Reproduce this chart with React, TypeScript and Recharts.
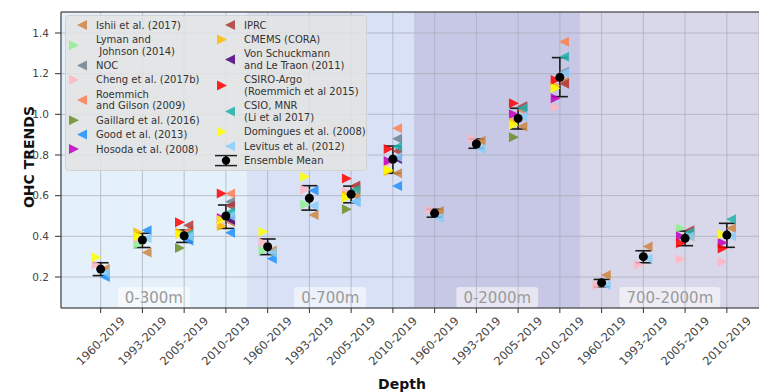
import React from 'react';
import { ScatterChart, Scatter, XAxis, YAxis, CartesianGrid, ReferenceArea, ReferenceLine, ErrorBar, Legend, Label } from 'recharts';

const _ = null;

const periods = ['1960-2019', '1993-2019', '2005-2019', '2010-2019'];
const depths = ['0-300m', '0-700m', '0-2000m', '700-2000m'];
const categories = depths.flatMap(() => periods);

const yTicks = [0.2, 0.4, 0.6, 0.8, 1.0, 1.2, 1.4];

// one value per category (4 depths x 4 periods), null = not available
const ishii = [0.24, 0.32, 0.39, 0.47, 0.33, 0.505, 0.6, 0.71, 0.525, 0.87, 0.94, 1.16, 0.21, 0.35, 0.4, 0.44];
const lyman = [_, 0.36, _, _, 0.33, 0.557, _, _, _, _, _, _, _, _, 0.44, _];
const noc = [_, _, _, 0.57, _, _, _, 0.88, _, _, _, 1.21, _, _, _, _];
const cheng = [0.26, 0.39, 0.41, 0.46, 0.37, 0.63, 0.62, 0.76, 0.53, 0.88, 0.99, 1.035, 0.16, 0.26, 0.287, 0.275];
const roemmichGilson = [_, _, 0.43, 0.611, _, _, 0.64, 0.931, _, _, 1.02, 1.357, _, _, _, _];
const gaillard = [_, _, 0.342, _, _, _, 0.533, _, _, _, 0.887, _, _, _, _, _];
const good = [0.2, 0.43, 0.38, 0.418, 0.29, 0.625, 0.57, 0.647, _, _, _, _, _, _, _, _];
const hosoda = [_, _, _, 0.49, _, _, _, 0.77, _, _, 1.0, 1.079, _, _, 0.4, 0.368];
const iprc = [_, _, 0.455, 0.55, _, _, 0.65, 0.82, _, _, 1.04, 1.15, _, _, 0.43, _];
const cmems = [_, 0.42, 0.42, 0.45, _, _, 0.6, 0.72, _, _, 0.96, 1.14, _, _, _, _];
const vonSchuckmann = [_, _, _, 0.48, _, _, _, 0.78, _, _, _, _, _, _, _, _];
const csiroArgo = [_, _, 0.469, 0.611, _, _, 0.685, 0.83, _, _, 1.054, 1.169, _, _, 0.366, 0.34];
const csio = [_, _, 0.41, 0.52, _, _, 0.63, 0.84, _, _, 1.03, 1.283, _, _, 0.42, 0.484];
const domingues = [0.297, 0.4, 0.41, 0.48, 0.423, 0.693, 0.59, 0.726, _, _, 0.947, 1.128, _, _, _, 0.41];
const levitus = [0.22, 0.39, 0.4, 0.5, 0.32, 0.55, 0.57, 0.79, 0.49, 0.83, 0.99, 1.205, 0.16, 0.29, 0.4, 0.4];

const ensMean = [0.239, 0.382, 0.403, 0.5, 0.349, 0.587, 0.607, 0.779, 0.513, 0.854, 0.98, 1.182, 0.172, 0.3, 0.39, 0.406];
const ensLow = [0.207, 0.345, 0.37, 0.439, 0.31, 0.529, 0.565, 0.71, 0.494, 0.833, 0.928, 1.087, 0.152, 0.27, 0.354, 0.346];
const ensHigh = [0.27, 0.415, 0.431, 0.554, 0.387, 0.649, 0.647, 0.844, 0.533, 0.879, 1.03, 1.279, 0.188, 0.329, 0.426, 0.464];

type Product = { name: string[]; color: string; dir: '<' | '>'; values: (number | null)[] };

const col1: Product[] = [
  { name: ['Ishii et al. (2017)'], color: '#cd853f', dir: '<', values: ishii },
  { name: ['Lyman and', ' Johnson (2014)'], color: '#90ee90', dir: '>', values: lyman },
  { name: ['NOC'], color: '#708090', dir: '<', values: noc },
  { name: ['Cheng et al. (2017b)'], color: '#ffb6c1', dir: '>', values: cheng },
  { name: ['Roemmich', 'and Gilson (2009)'], color: '#ff7f50', dir: '<', values: roemmichGilson },
  { name: ['Gaillard et al. (2016)'], color: '#6b8e23', dir: '>', values: gaillard },
  { name: ['Good et al. (2013)'], color: '#1e90ff', dir: '<', values: good },
  { name: ['Hosoda et al. (2008)'], color: '#bf00bf', dir: '>', values: hosoda },
];
const col2: Product[] = [
  { name: ['IPRC'], color: '#b03a3a', dir: '<', values: iprc },
  { name: ['CMEMS (CORA)'], color: '#ffbb00', dir: '>', values: cmems },
  { name: ['Von Schuckmann', 'and Le Traon (2011)'], color: '#4b0082', dir: '<', values: vonSchuckmann },
  { name: ['CSIRO-Argo', '(Roemmich et al 2015)'], color: '#ff0000', dir: '>', values: csiroArgo },
  { name: ['CSIO, MNR', '(Li et al 2017)'], color: '#20b2aa', dir: '<', values: csio },
  { name: ['Domingues et al. (2008)'], color: '#ffff00', dir: '>', values: domingues },
  { name: ['Levitus et al. (2012)'], color: '#87cefa', dir: '<', values: levitus },
];
const products = [...col1, ...col2];

const bandColors = ['#e4f1fa', '#d8e1f5', '#c7c8e5', '#d9d8ea'];

const X_MIN = -0.95;
const X_MAX = 15.77;
const Y_MIN = 0.0475;
const Y_MAX = 1.5033;
const FONT = '"DejaVu Sans", sans-serif';

const triPoints = (cx: number, cy: number, dir: string, s = 5) =>
  dir === '>'
    ? `${cx - s},${cy - s} ${cx + s},${cy} ${cx - s},${cy + s}`
    : `${cx + s},${cy - s} ${cx - s},${cy} ${cx + s},${cy + s}`;

const triangleShape = (color: string, dir: string) => (p: any) =>
  <polygon points={triPoints(p.cx, p.cy, dir)} fill={color} fillOpacity={0.85} />;

const toPoints = (p: Product) =>
  p.values
    .map((v, i) => (v == null ? null : { x: i + (p.dir === '>' ? -0.1 : 0.1), y: v }))
    .filter(Boolean);

const ensData = ensMean.map((m, i) => ({ x: i, y: m, err: [m - ensLow[i], ensHigh[i] - m] }));

const charW = (t: string) => t.split('').reduce((s, c) => s + (c === '-' ? 5.4 : c === 'm' ? 14.6 : 9.54), 0);

const bandLabel = (text: string) => (props: any) => {
  const vb = props.viewBox;
  const cx = vb.x + vb.width / 2;
  const bottom = vb.y + vb.height;
  const w = charW(text) + 14;
  return (
    <g>
      <rect x={cx - w / 2} y={bottom - 21} width={w} height={21} rx={3} fill="#fff" fillOpacity={0.55} />
      <text x={cx} y={bottom - 10} textAnchor="middle" dominantBaseline="central" fontSize={15} fill="#9a9a9a" fontFamily={FONT}>
        {text}
      </text>
    </g>
  );
};

const XTick = (props: any) => {
  const { x, y, payload } = props;
  return (
    <g transform={`translate(${x},${y + 28})`}>
      <text transform="rotate(-45)" textAnchor="middle" dominantBaseline="central" fontSize={11.5} fill="#444" fontFamily={FONT}>
        {categories[payload.value]}
      </text>
    </g>
  );
};

const LegendBox = () => {
  const step = 14.4;
  const inner = 11.6;
  const renderCol = (items: { name: string[]; color?: string; dir?: string; ens?: boolean }[], mx: number, tx: number) => {
    let y = 10;
    return items.map((it, k) => {
      const y0 = y;
      const mid = y0 + (inner * (it.name.length - 1)) / 2;
      y += step + inner * (it.name.length - 1);
      return (
        <g key={k}>
          {it.ens ? (
            <g stroke="#222" strokeWidth={1.5}>
              <line x1={mx - 11} x2={mx + 11} y1={mid - 5} y2={mid - 5} />
              <line x1={mx - 11} x2={mx + 11} y1={mid + 5} y2={mid + 5} />
              <line x1={mx} x2={mx} y1={mid - 5} y2={mid + 5} strokeWidth={2} />
              <circle cx={mx} cy={mid} r={4.2} fill="#000" stroke="none" />
            </g>
          ) : (
            <polygon points={triPoints(mx + (it.dir === '>' ? -4 : 4), mid, it.dir!)} fill={it.color} fillOpacity={0.85} />
          )}
          {it.name.map((line, j) => (
            <text key={j} x={tx} y={y0 + j * inner} dominantBaseline="central" fontSize={10} fill="#333" fontFamily={FONT} xmlSpace="preserve">
              {line}
            </text>
          ))}
        </g>
      );
    });
  };
  return (
    <svg width={302} height={156} style={{ display: 'block' }}>
      <rect x={0.5} y={0.5} width={301} height={155} rx={3} fill="#e3e3e3" fillOpacity={0.88} stroke="#d2d2d2" />
      {renderCol(col1, 13, 31)}
      {renderCol([...col2, { name: ['Ensemble Mean'], ens: true }], 161, 179)}
    </svg>
  );
};

export default function App() {
  return (
    <div style={{ position: 'absolute', left: 0, top: 0, fontFamily: FONT }}>
      <ScatterChart width={759} height={392} margin={{ top: 12, right: 0, left: 0, bottom: 0 }}>
        {depths.map((d, g) => (
          <ReferenceArea
            key={d}
            x1={g === 0 ? X_MIN : g * 4 - 0.5}
            x2={g === depths.length - 1 ? X_MAX : g * 4 + 3.5}
            y1={Y_MIN}
            y2={Y_MAX}
            fill={bandColors[g]}
            fillOpacity={1}
            stroke="none"
            ifOverflow="visible"
            zIndex={-200}
            label={bandLabel(d)}
          />
        ))}
        <CartesianGrid stroke="#a8a9b6" strokeOpacity={0.7} strokeWidth={1} zIndex={-100} />
        <XAxis
          type="number"
          dataKey="x"
          domain={[X_MIN, X_MAX]}
          ticks={categories.map((_c, i) => i)}
          interval={0}
          allowDataOverflow
          height={84}
          tickSize={5}
          tickMargin={0}
          tick={<XTick />}
          stroke="#333"
        >
          <Label
            content={(p: any) => (
              <text x={p.viewBox.x + p.viewBox.width / 2 - 8} y={p.viewBox.y + 76} textAnchor="middle" dominantBaseline="central" fontSize={14} fontWeight="bold" fill="#111" fontFamily={FONT}>
                Depth
              </text>
            )}
          />
        </XAxis>
        <YAxis
          type="number"
          dataKey="y"
          domain={[Y_MIN, Y_MAX]}
          ticks={yTicks}
          allowDataOverflow
          width={61}
          tickSize={6}
          tickMargin={6}
          tickFormatter={(v: number) => v.toFixed(1)}
          tick={{ fontSize: 10.5, fill: '#444', fontFamily: FONT }}
          stroke="#333"
        >
          <Label
            content={(p: any) => {
              const cx = 29;
              const cy = p.viewBox.y + p.viewBox.height / 2 - 3;
              return (
                <text x={cx} y={cy} transform={`rotate(-90, ${cx}, ${cy})`} textAnchor="middle" dominantBaseline="central" fontSize={14} fontWeight="bold" fill="#111" fontFamily={FONT}>
                  OHC TRENDS
                </text>
              );
            }}
          />
        </YAxis>
        <ReferenceLine y={Y_MAX} stroke="#333" ifOverflow="visible" />
        {products.map((p) => (
          <Scatter key={p.name.join(' ')} name={p.name.join(' ')} data={toPoints(p)} isAnimationActive={false} shape={triangleShape(p.color, p.dir)} />
        ))}
        <Scatter
          name="Ensemble Mean"
          data={ensData}
          isAnimationActive={false}
          shape={(p: any) => <circle cx={p.cx} cy={p.cy} r={4.5} fill="#000" />}
        >
          <ErrorBar dataKey="err" direction="y" width={8} stroke="#1a1a1a" strokeWidth={1.6} />
        </Scatter>
        <Legend
          layout="vertical"
          align="center"
          verticalAlign="middle"
          content={() => <LegendBox />}
          wrapperStyle={{ position: 'absolute', left: 65, top: 15, width: 302, height: 156 }}
        />
      </ScatterChart>
    </div>
  );
}
